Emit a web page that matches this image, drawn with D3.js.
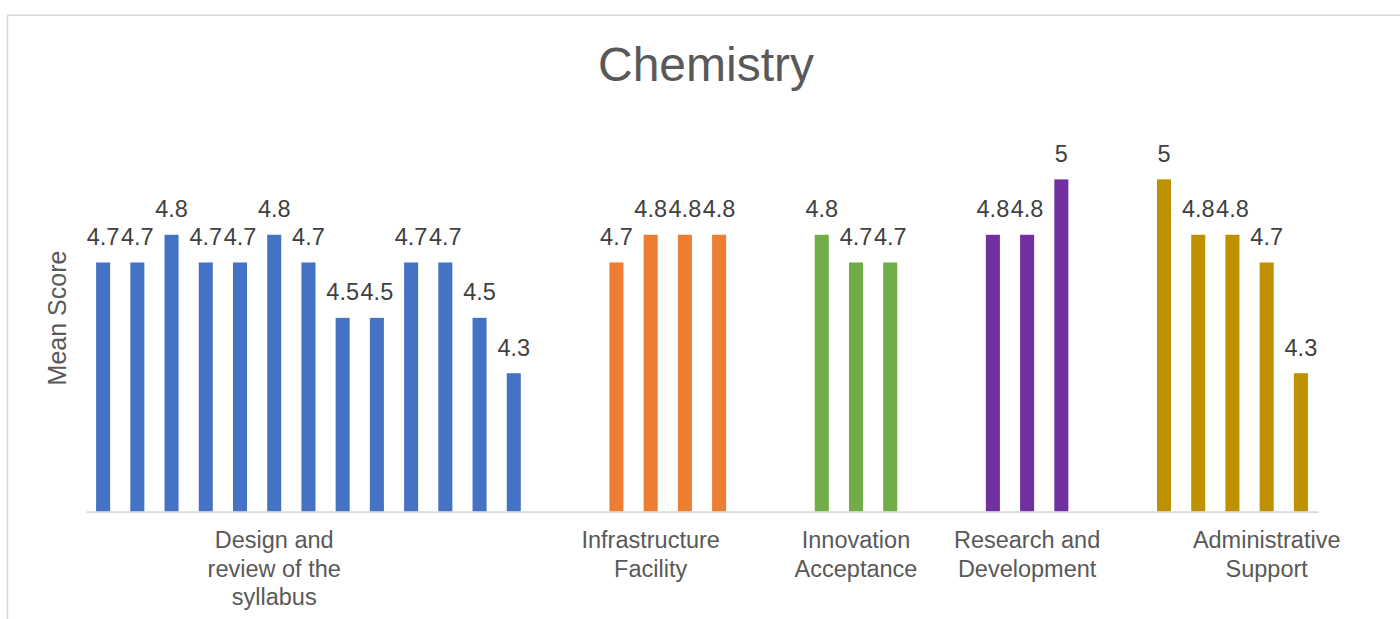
<!DOCTYPE html>
<html>
<head>
<meta charset="utf-8">
<script src="https://cdn.jsdelivr.net/npm/d3@7"></script>
<style>
  html, body { margin: 0; padding: 0; background: #ffffff; }
  svg { display: block; font-family: "Liberation Sans", Arial, sans-serif; }
</style>
</head>
<body>
<svg id="chart" width="1400" height="619"></svg>
<script>
// ---- data ----
const title = "Chemistry";
const yAxisTitle = "Mean Score";
const categories = [
  "Design and review of the syllabus",
  "Infrastructure Facility",
  "Innovation Acceptance",
  "Research and Development",
  "Administrative Support"
];
const categoryLines = [
  ["Design and", "review of the", "syllabus"],
  ["Infrastructure", "Facility"],
  ["Innovation", "Acceptance"],
  ["Research and", "Development"],
  ["Administrative", "Support"]
];
const designValues = [4.7, 4.7, 4.8, 4.7, 4.7, 4.8, 4.7, 4.5, 4.5, 4.7, 4.7, 4.5, 4.3];
const infrastructureValues = [4.7, 4.8, 4.8, 4.8];
const innovationValues = [4.8, 4.7, 4.7];
const researchValues = [4.8, 4.8, 5];
const adminValues = [5, 4.8, 4.8, 4.7, 4.3];
const colors = ["#4472C4", "#ED7D31", "#70AD47", "#7030A0", "#BF9000"];

// ---- layout ----
const W = 1400, H = 619;
const plotLeft = 86, plotRight = 1318, plotTop = 124, plotBottom = 511.7;
const gapSlots = 2;
const labelSlot = [5, 16, 22, 27, 34];

const groups = [designValues, infrastructureValues, innovationValues, researchValues, adminValues];
const bars = [];
let slot = 0;
groups.forEach((vals, gi) => {
  vals.forEach(v => { bars.push({ slot: slot, value: v, group: gi }); slot++; });
  if (gi < groups.length - 1) slot += gapSlots;
});
const totalSlots = slot;

const svg = d3.select("#chart");

// chart border
svg.append("rect")
  .attr("x", 7.5).attr("y", 15.2)
  .attr("width", W + 20).attr("height", H + 20)
  .attr("fill", "none").attr("stroke", "#d9d9d9").attr("stroke-width", 1.6);

const x = d3.scaleBand()
  .domain(d3.range(totalSlots))
  .range([plotLeft, plotRight])
  .paddingInner(0.59)
  .paddingOuter(0.295);

const y = d3.scaleLinear().domain([3.8, 5.2]).range([plotBottom, plotTop]);

// title
svg.append("text")
  .attr("x", 706).attr("y", 81)
  .attr("text-anchor", "middle")
  .attr("font-size", 48)
  .attr("fill", "#595959")
  .text(title);

// y axis title
svg.append("text")
  .attr("transform", `translate(66,318) rotate(-90)`)
  .attr("text-anchor", "middle")
  .attr("font-size", 25)
  .attr("fill", "#595959")
  .text(yAxisTitle);

// bars
svg.append("g").selectAll("rect")
  .data(bars)
  .join("rect")
  .attr("x", d => x(d.slot))
  .attr("y", d => y(d.value))
  .attr("width", x.bandwidth())
  .attr("height", d => y(3.8) - y(d.value))
  .attr("fill", d => colors[d.group]);

// x axis line
const xAxis = d3.axisBottom(x).tickSize(0).tickFormat("");
const gx = svg.append("g").attr("transform", `translate(0,${plotBottom})`).call(xAxis);
gx.select(".domain").attr("stroke", "#d9d9d9").attr("stroke-width", 1.7);

// data labels
svg.append("g").selectAll("text")
  .data(bars)
  .join("text")
  .attr("x", d => x(d.slot) + x.bandwidth() / 2)
  .attr("y", d => y(d.value) - 17.5)
  .attr("text-anchor", "middle")
  .attr("font-size", 23.5)
  .attr("fill", "#404040")
  .text(d => d3.format("")(d.value));

// category labels
const cg = svg.append("g");
categoryLines.forEach((lines, i) => {
  const cx = x(labelSlot[i]) + x.bandwidth() / 2;
  const t = cg.append("text")
    .attr("text-anchor", "middle")
    .attr("font-size", 23.5)
    .attr("fill", "#595959")
    .attr("data-category", categories[i]);
  lines.forEach((ln, j) => {
    t.append("tspan").attr("x", cx).attr("y", 548 + j * 28.5).text(ln);
  });
});
</script>
</body>
</html>
